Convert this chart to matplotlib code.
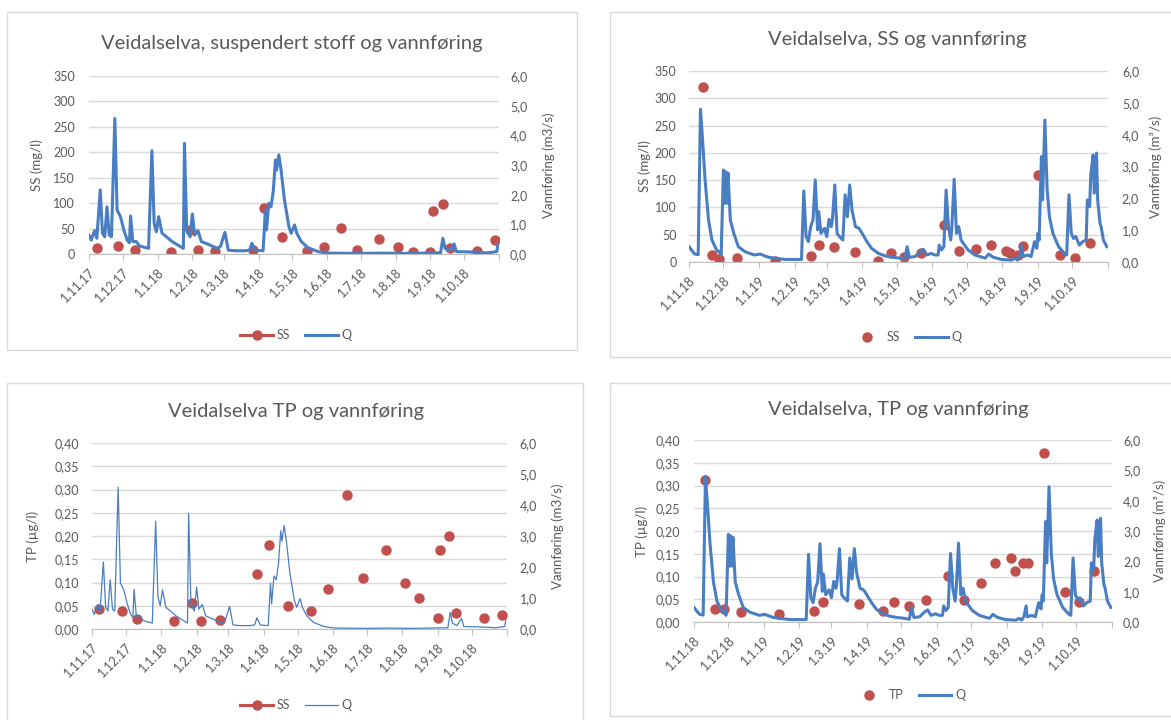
import matplotlib
matplotlib.use("Agg")
import matplotlib.pyplot as plt
from matplotlib.lines import Line2D
from matplotlib.patches import Rectangle
import pandas as pd

plt.rcParams['font.family'] = ['Lato', 'DejaVu Sans']

# --- vannføring (Q, m3/s), dager etter 1.11.2017 ---
q17_day = [0, 2, 5, 7, 10, 12, 14, 16, 18, 20, 23, 25, 28, 31, 34, 36, 37, 39, 42, 45,
           50, 53, 56, 58, 60, 62, 65, 69, 74, 80, 84, 85, 87, 90, 92, 94, 97, 100, 106, 114,
           117, 121, 124, 130, 139, 143, 145, 148, 155, 157, 158, 160, 162, 164, 166, 167, 169, 171, 174, 178,
           180, 183, 185, 189, 195, 204, 213, 240, 260, 280, 300, 313, 315, 317, 321, 325, 327, 340, 355, 363,
           364]
q17_val = [0.64, 0.47, 0.79, 0.53, 2.16, 0.70, 0.58, 1.59, 0.64, 0.58, 4.57, 1.48, 1.26, 0.81, 0.47, 0.38, 1.28, 0.42, 0.42, 0.27,
           0.22, 0.19, 3.48, 1.03, 0.75, 1.26, 0.70, 0.58, 0.42, 0.28, 0.19, 3.73, 0.81, 0.58, 1.35, 0.64, 0.79, 0.42, 0.33, 0.19,
           0.25, 0.73, 0.13, 0.11, 0.11, 0.13, 0.36, 0.13, 0.11, 1.48, 0.81, 1.71, 1.59, 2.10, 3.17, 2.83, 3.34, 2.83, 1.82, 0.92,
           0.70, 0.98, 0.70, 0.42, 0.21, 0.08, 0.03, 0.02, 0.03, 0.02, 0.03, 0.04, 0.53, 0.19, 0.11, 0.34, 0.08, 0.07, 0.04, 0.08,
           0.30]

# --- vannføring (Q, m3/s), dager etter 1.11.2018 ---
q18_day = [0, 2, 5, 8, 10, 12, 14, 17, 20, 24, 27, 28, 30, 31, 32, 33, 34, 36, 39, 43,
           49, 57, 62, 69, 75, 84, 98, 100, 102, 104, 106, 108, 110, 112, 113, 115, 118, 120, 122, 124,
           125, 127, 129, 131, 134, 136, 138, 140, 142, 145, 148, 150, 155, 159, 165, 171, 177, 184, 188, 190,
           192, 197, 201, 204, 207, 211, 214, 217, 218, 220, 222, 224, 226, 228, 229, 231, 233, 235, 237, 243,
           249, 258, 261, 265, 272, 281, 284, 286, 288, 290, 291, 295, 298, 301, 303, 304, 305, 307, 308, 310,
           312, 314, 317, 322, 327, 329, 331, 333, 335, 337, 340, 343, 346, 347, 349, 350, 352, 353, 355, 356,
           358, 359, 361, 364]
q18_val = [0.48, 0.38, 0.25, 0.23, 4.80, 3.73, 2.58, 1.32, 0.69, 0.38, 0.29, 0.22, 2.89, 1.84, 2.84, 1.84, 2.79, 1.32, 0.90, 0.48,
           0.32, 0.22, 0.25, 0.15, 0.12, 0.08, 0.08, 2.23, 0.80, 0.64, 1.11, 1.32, 2.58, 1.01, 1.58, 0.90, 1.06, 0.80, 1.34, 1.11,
           1.37, 2.42, 0.90, 0.80, 0.69, 2.11, 1.42, 2.42, 1.63, 1.11, 1.06, 0.95, 0.64, 0.43, 0.27, 0.19, 0.15, 0.12, 0.09, 0.48,
           0.15, 0.17, 0.32, 0.40, 0.22, 0.27, 0.22, 0.22, 0.53, 0.38, 0.48, 2.26, 1.11, 0.69, 1.11, 2.60, 0.90, 1.11, 0.69, 0.38,
           0.22, 0.12, 0.25, 0.15, 0.08, 0.06, 0.12, 0.06, 0.17, 0.53, 0.17, 0.22, 0.17, 0.64, 0.43, 0.90, 0.69, 3.31, 1.95, 4.46,
           2.26, 1.42, 0.90, 0.48, 0.27, 0.22, 2.11, 0.90, 0.74, 0.80, 0.53, 0.64, 0.69, 1.95, 1.74, 2.73, 3.36, 2.16, 3.42, 1.95,
           1.22, 1.11, 0.69, 0.48]

# --- prøver 2017/18 ---
ss17_day = [7, 26, 41, 73, 90, 97, 112, 146, 156, 172, 194, 209, 224, 239, 258, 275, 288, 304, 306, 315, 321, 345, 361]
ss17_val = [11, 16, 8, 3, 48, 7, 6, 7, 90, 33, 6, 13, 52, 7, 29, 14, 3, 3, 85, 98, 11, 5, 28]
tp17_day = [6, 26, 40, 72, 88, 96, 113, 145, 156, 172, 193, 208, 224, 238, 259, 275, 288, 304, 306, 314, 320, 345, 361]
tp17_val = [0.042, 0.038, 0.022, 0.018, 0.055, 0.017, 0.019, 0.119, 0.181, 0.049, 0.039, 0.085, 0.289, 0.109, 0.169,
            0.099, 0.066, 0.024, 0.169, 0.201, 0.035, 0.024, 0.030]

# --- prøver 2018/19 ---
ss18_day = [12, 20, 26, 42, 75, 106, 113, 126, 145, 165, 176, 187, 202, 222, 235, 250, 263, 276, 280, 287, 291, 304,
            323, 336, 349]
ss18_val = [320, 12, 6, 7, 1, 11, 31, 27, 18, 2, 16, 10, 16, 68, 21, 24, 31, 21, 17, 12, 29, 160, 12, 8, 34]
tp18_day = [10, 18, 26, 41, 74, 105, 113, 144, 165, 175, 188, 203, 222, 236, 251, 263, 277, 280, 287, 292, 306, 324,
            336, 349]
tp18_val = [0.311, 0.028, 0.028, 0.021, 0.018, 0.024, 0.045, 0.040, 0.024, 0.043, 0.035, 0.048, 0.101, 0.048, 0.085,
            0.129, 0.140, 0.111, 0.129, 0.129, 0.371, 0.066, 0.045, 0.111]

x17_labels = ["1.11.17", "1.12.17", "1.1.18", "1.2.18", "1.3.18", "1.4.18", "1.5.18", "1.6.18",
              "1.7.18", "1.8.18", "1.9.18", "1.10.18"]
x18_labels = ["1.11.18", "1.12.18", "1.1.19", "1.2.19", "1.3.19", "1.4.19", "1.5.19", "1.6.19",
              "1.7.19", "1.8.19", "1.9.19", "1.10.19"]

W, H = 1171, 720
RED = '#C0504D'
BLUE = '#4A7EC2'
GREY = '#595959'
GRID = '#D9D9D9'

fig = plt.figure(figsize=(W / 100, H / 100), dpi=100)


def px_rect(x0, y0, x1, y1):
    return [x0 / W, 1 - y1 / H, (x1 - x0) / W, (y1 - y0) / H]


def month_ticks(start):
    t0 = pd.Timestamp(start)
    months = pd.date_range(t0, periods=13, freq='MS')
    return [(m - t0).days for m in months]


def panel(box, area, title, title_xy, start, xlabels, q_day, q_val, q_lw,
          s_day, s_val, ymax, ystep, yfmt, ylabel, qlabel, ylab_x, qlab_x,
          lpad, rpad, name, line_legend, legend_xy):
    # ramme rundt diagrammet
    x0, y0, x1, y1 = box
    fig.patches.append(Rectangle((x0 / W, 1 - y1 / H), (x1 - x0) / W, (y1 - y0) / H,
                                 transform=fig.transFigure, fill=False,
                                 edgecolor=GRID, lw=1.0))
    fig.text(title_xy[0] / W, 1 - title_xy[1] / H, title, ha='center', va='center',
             fontsize=14.5, color=GREY)

    ax = fig.add_axes(px_rect(*area))
    ticks = month_ticks(start)
    ax.set_xlim(ticks[0], ticks[-1])
    ax.set_xticks(ticks)
    ax.set_xticklabels(xlabels + [''], rotation=45, ha='right', rotation_mode='anchor',
                       fontsize=9, color=GREY)
    ax.set_ylim(0, ymax)
    n = int(round(ymax / ystep))
    yt = [i * ystep for i in range(n + 1)]
    ax.set_yticks(yt)
    ax.set_yticklabels([yfmt(v) for v in yt], fontsize=9, color=GREY)
    ax.grid(axis='y', color=GRID, lw=1.0)
    ax.set_axisbelow(True)
    for s in ['left', 'right', 'top']:
        ax.spines[s].set_visible(False)
    ax.spines['bottom'].set_color('#BFBFBF')
    ax.tick_params(axis='y', length=0, pad=lpad)
    ax.tick_params(axis='x', length=4, color='#BFBFBF', pad=5)
    ax.set_ylabel(ylabel, fontsize=9.5, color=GREY)
    ax.yaxis.set_label_coords(ylab_x, 0.5)

    ax.plot(s_day, s_val, 'o', color=RED, ms=6.5, mec=RED, ls='none')

    ax2 = ax.twinx()
    ax2.set_ylim(0, 6)
    ax2.set_yticks(range(7))
    ax2.set_yticklabels([f"{v},0" for v in range(7)], fontsize=9, color=GREY)
    for s in ax2.spines.values():
        s.set_visible(False)
    ax2.tick_params(axis='y', length=0, pad=rpad)
    ax2.plot(q_day, q_val, color=BLUE, lw=q_lw, solid_joinstyle='round')
    ax2.set_ylabel(qlabel, fontsize=9.5, color=GREY, rotation=90)
    ax2.yaxis.set_label_coords(qlab_x, 0.5)

    if line_legend:
        h1 = Line2D([], [], color=RED, lw=2.2, marker='o', ms=6.5)
    else:
        h1 = Line2D([], [], color=RED, ls='none', marker='o', ms=6.5)
    h2 = Line2D([], [], color=BLUE, lw=q_lw)
    fig.legend([h1, h2], [name, 'Q'], loc='center',
               bbox_to_anchor=(legend_xy[0] / W, 1 - legend_xy[1] / H),
               ncol=2, frameon=False, fontsize=9, handlelength=2.6,
               columnspacing=1.2, handletextpad=0.3, labelcolor=GREY)


def fmt_int(v):
    return f"{int(round(v))}"


def fmt_tp(v):
    return f"{v:.2f}".replace('.', ',')


panel((7, 12, 577, 350), (89, 76, 499, 254),
      "Veidalselva, suspendert stoff og vannføring", (292, 43), "2017-11-01", x17_labels,
      q17_day, q17_val, 2.2, ss17_day, ss17_val, 350, 50, fmt_int,
      "SS (mg/l)", "Vannføring (m3/s)", -0.112, 1.105, 10, 8, "SS", True, (296, 335))

panel((610, 12, 1180, 357), (689, 71, 1108, 262),
      "Veidalselva, SS og vannføring", (897, 40), "2018-11-01", x18_labels,
      q18_day, q18_val, 2.2, ss18_day, ss18_val, 350, 50, fmt_int,
      "SS (mg/l)", "Vannføring (m³/s)", -0.091, 1.100, 9, 10, "SS", False, (906, 337))

panel((7, 383, 583, 730), (92, 443, 507, 629),
      "Veidalselva TP og vannføring", (296, 412), "2017-11-01", x17_labels,
      q17_day, q17_val, 0.9, tp17_day, tp17_val, 0.40, 0.05, fmt_tp,
      "TP (µg/l)", "Vannføring (m3/s)", -0.128, 1.106, 9, 9, "SS", True, (296, 705))

panel((610, 383, 1180, 716), (694, 440, 1112, 622),
      "Veidalselva, TP og vannføring", (898, 410), "2018-11-01", x18_labels,
      q18_day, q18_val, 2.2, tp18_day, tp18_val, 0.40, 0.05, fmt_tp,
      "TP (µg/l)", "Vannføring (m³/s)", -0.110, 1.100, 10, 8, "TP", False, (909, 695))

fig.savefig("out.png", dpi=100)
